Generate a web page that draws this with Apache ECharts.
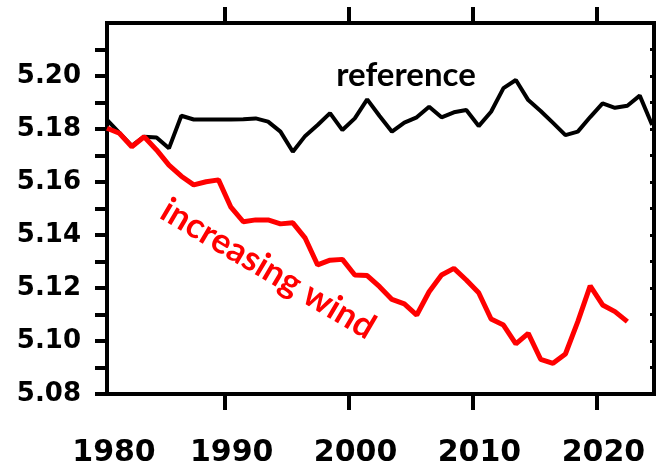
<!DOCTYPE html>
<html><head><meta charset="utf-8">
<script src="https://cdn.jsdelivr.net/npm/echarts@6/dist/echarts.min.js"></script>
<style>html,body{margin:0;padding:0;background:#fff}#c{width:657px;height:470px}</style>
</head><body><div id="c"></div>
<script>
// Annual values, plotted at mid-year
const referenceYears = [1980,1981,1982,1983,1984,1985,1986,1987,1988,1989,1990,1991,1992,1993,1994,1995,1996,1997,1998,1999,2000,2001,2002,2003,2004,2005,2006,2007,2008,2009,2010,2011,2012,2013,2014,2015,2016,2017,2018,2019,2020,2021,2022,2023,2024];
const referenceValues = [5.1834,5.1785,5.1736,5.1771,5.1768,5.1727,5.1850,5.1836,5.1836,5.1836,5.1836,5.1837,5.1840,5.1828,5.1790,5.1714,5.1774,5.1815,5.1860,5.1796,5.1840,5.1912,5.1849,5.1790,5.1824,5.1844,5.1884,5.1844,5.1863,5.1872,5.1811,5.1865,5.1954,5.1985,5.1909,5.1868,5.1823,5.1777,5.1790,5.1845,5.1897,5.1880,5.1888,5.1926,5.1815];
const windYears = [1980,1981,1982,1983,1984,1985,1986,1987,1988,1989,1990,1991,1992,1993,1994,1995,1996,1997,1998,1999,2000,2001,2002,2003,2004,2005,2006,2007,2008,2009,2010,2011,2012,2013,2014,2015,2016,2017,2018,2019,2020,2021,2022];
const windValues = [5.1803,5.1784,5.1733,5.1771,5.1721,5.1664,5.1622,5.1589,5.1601,5.1608,5.1505,5.1450,5.1457,5.1457,5.1442,5.1446,5.1388,5.1287,5.1305,5.1308,5.1249,5.1247,5.1205,5.1157,5.1140,5.1098,5.1186,5.1249,5.1274,5.1230,5.1182,5.1083,5.1060,5.0989,5.1029,5.0931,5.0916,5.0951,5.1073,5.1208,5.1136,5.1111,5.1073];
const xTickLabels = [1980,1990,2000,2010,2020];
const xTickMarks = [1990,2000,2010,2020];
const yTickLabels = [5.08,5.10,5.12,5.14,5.16,5.18,5.20];

const xMin = 1980.5, xMax = 2024.65;
const yMin = 5.08, yMax = 5.22;

const chart = echarts.init(document.getElementById('c'), null, {renderer:'canvas'});
const axisLine = {show:true, onZero:false, lineStyle:{color:'#000', width:4, cap:'square'}};
const labelCustom = xTickLabels.map(v => Math.max(v, xMin));

chart.setOption({
  animation:false,
  backgroundColor:'#fff',
  grid:{left:107, right:3, top:23, bottom:76, containLabel:false},
  xAxis:[
    {type:'value', position:'bottom', min:xMin, max:xMax,
     axisLine:axisLine,
     axisTick:{show:true, customValues:xTickMarks, length:16, lineStyle:{color:'#000', width:4}},
     axisLabel:{show:true, customValues:labelCustom, formatter:v => String(Math.floor(v)),
       color:'#000', fontFamily:'DejaVu Sans', fontWeight:'bold', fontSize:30, margin:44, padding:[0,0,0,14]},
     splitLine:{show:false}},
    {type:'value', position:'top', min:xMin, max:xMax,
     axisLine:axisLine,
     axisTick:{show:true, customValues:xTickMarks, length:16, lineStyle:{color:'#000', width:4}},
     axisLabel:{show:false}, splitLine:{show:false}}
  ],
  yAxis:[
    {type:'value', position:'left', min:yMin, max:yMax, interval:0.02,
     axisLine:axisLine,
     axisTick:{show:true, customValues:yTickLabels, length:12, lineStyle:{color:'#000', width:4}},
     minorTick:{show:true, splitNumber:2, length:12, lineStyle:{color:'#000', width:4}},
     axisLabel:{show:true, customValues:yTickLabels, formatter:v => v.toFixed(2),
       color:'#000', fontFamily:'DejaVu Sans', fontWeight:'bold', fontSize:26, margin:26},
     splitLine:{show:false}, minorSplitLine:{show:false}},
    {type:'value', position:'right', min:yMin, max:yMax, interval:0.02,
     axisLine:axisLine,
     axisTick:{show:true, inside:true, length:4, lineStyle:{color:'#000', width:3}},
     minorTick:{show:true, splitNumber:2, length:4, lineStyle:{color:'#000', width:3}},
     axisLabel:{show:false}, splitLine:{show:false}, minorSplitLine:{show:false}}
  ],
  series:[
    {name:'reference', type:'line', xAxisIndex:0, yAxisIndex:0, showSymbol:false, z:3,
     lineStyle:{color:'#000', width:4},
     data: referenceYears.map((y,i) => [y + 0.5, referenceValues[i]])},
    {name:'increasing wind', type:'line', xAxisIndex:0, yAxisIndex:0, showSymbol:false, z:4,
     lineStyle:{color:'#ff0000', width:5},
     data: windYears.map((y,i) => [y + 0.5, windValues[i]])}
  ],
  graphic:[
    {type:'text', x:406, y:75, z:10,
     style:{text:'reference', fill:'#000', fontFamily:'Lato', fontWeight:'bold', fontSize:33, align:'center', verticalAlign:'middle'}},
    {type:'text', x:268, y:269, rotation:-30.5*Math.PI/180, z:10,
     style:{text:'increasing wind', fill:'#ff0000', fontFamily:'Lato', fontWeight:'bold', fontSize:35, align:'center', verticalAlign:'middle'}}
  ]
});
</script>
</body></html>
